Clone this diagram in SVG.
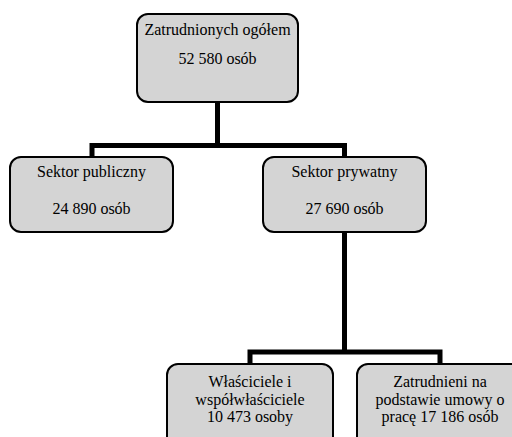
<svg xmlns="http://www.w3.org/2000/svg" width="512" height="437" viewBox="0 0 512 437">
<style>
.box{fill:#d4d4d4;stroke:#000;stroke-width:2}
.t{font-size:16px;fill:#000;text-anchor:middle}
.c{fill:none;stroke:#000;stroke-width:5;stroke-linejoin:miter}
</style>
<rect width="512" height="437" fill="#fff"/>
<g id="connectors">
<path class="c" d="M217.5,102 V145.5 M92,157 V145.5 H344.5 V157"/>
<path class="c" d="M344.5,232 V352 M250,364 V352 H440 V364"/>
</g>
<g font-family="Liberation Serif, DejaVu Serif, Times New Roman, serif">
<g id="n-total">
<rect class="box" x="137" y="14" width="161" height="88" rx="11"/>
<text class="t" x="217.5" y="35">Zatrudnionych ogółem</text>
<text class="t" x="217.5" y="64">52 580 osób</text>
</g>
<g id="n-public">
<rect class="box" x="10" y="157" width="163" height="75" rx="11"/>
<text class="t" x="91.5" y="177">Sektor publiczny</text>
<text class="t" x="91.5" y="214">24 890 osób</text>
</g>
<g id="n-private">
<rect class="box" x="263" y="157" width="163" height="75" rx="11"/>
<text class="t" x="344.5" y="177">Sektor prywatny</text>
<text class="t" x="344.5" y="214">27 690 osób</text>
</g>
<g id="n-owners">
<rect class="box" x="167" y="364" width="166" height="85" rx="11"/>
<text class="t" x="250" y="387">Właściciele i</text>
<text class="t" x="250" y="405">współwłaściciele</text>
<text class="t" x="250" y="422">10 473 osoby</text>
</g>
<g id="n-employed">
<rect class="box" x="357" y="364" width="166" height="85" rx="11"/>
<text class="t" x="440" y="387">Zatrudnieni na</text>
<text class="t" x="440" y="405">podstawie umowy o</text>
<text class="t" x="440" y="422">pracę 17 186 osób</text>
</g>
</g>
</svg>
